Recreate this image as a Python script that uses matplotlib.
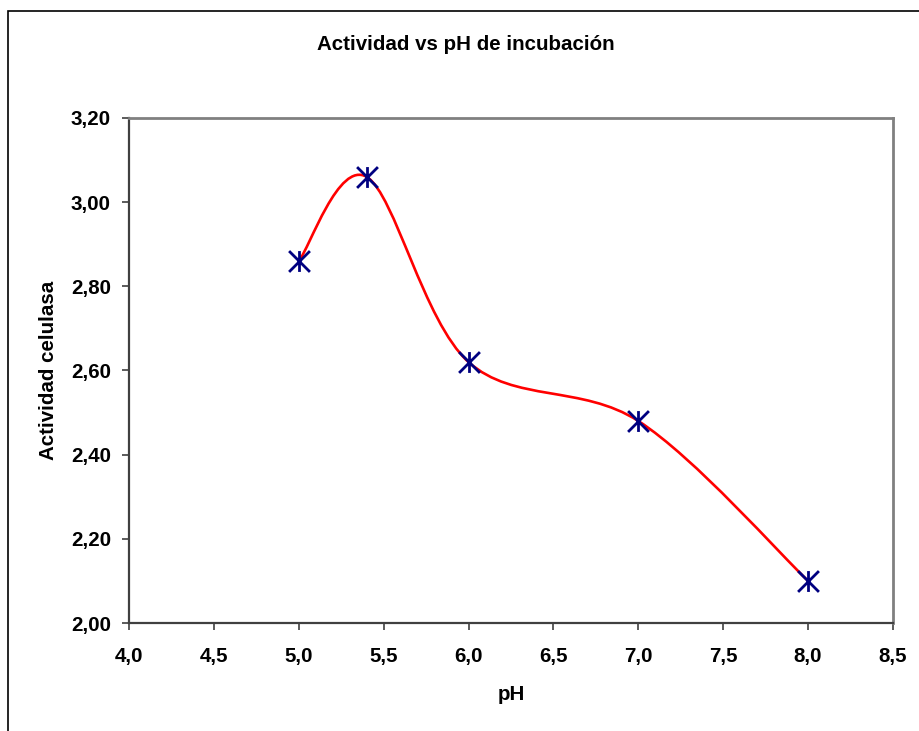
import matplotlib
matplotlib.use("Agg")
import matplotlib.pyplot as plt
from matplotlib.path import Path
from matplotlib.patches import PathPatch, Rectangle
from matplotlib.ticker import FuncFormatter, MultipleLocator

# Data
ph = [5.0, 5.4, 6.0, 7.0, 8.0]
actividad = [2.86, 3.06, 2.62, 2.48, 2.10]

title = "Actividad vs pH de incubación"
xlabel = "pH"
ylabel = "Actividad celulasa"

plt.rcParams['font.family'] = ['Liberation Sans', 'DejaVu Sans']
FS = 14.8

W, H = 919, 731
fig = plt.figure(figsize=(W / 100, H / 100), dpi=100)
fig.patch.set_facecolor('white')

# outer chart frame (extends beyond the image on right/bottom)
fig.patches.append(Rectangle((8 / W, 0 - 20 / H), (W + 40) / W, (H - 11 + 20) / H,
                             transform=fig.transFigure, fill=False,
                             edgecolor='black', linewidth=1.2))

L, R, T, B = 129, 893, 118, 623
ax = fig.add_axes([L / W, (H - B) / H, (R - L) / W, (B - T) / H])

# Smoothed line (Excel-like Bezier smoothing through the points)
pts = list(zip(ph, actividad))
n = len(pts)
verts = [pts[0]]
codes = [Path.MOVETO]
for i in range(n - 1):
    p0 = pts[i - 1] if i > 0 else pts[i]
    p1 = pts[i]
    p2 = pts[i + 1]
    p3 = pts[i + 2] if i + 2 < n else pts[i + 1]
    c1 = (p1[0] + (p2[0] - p0[0]) / 6, p1[1] + (p2[1] - p0[1]) / 6)
    c2 = (p2[0] - (p3[0] - p1[0]) / 6, p2[1] - (p3[1] - p1[1]) / 6)
    verts += [c1, c2, p2]
    codes += [Path.CURVE4] * 3
ax.add_patch(PathPatch(Path(verts, codes), facecolor='none', edgecolor='#FF0000',
                       linewidth=1.9, zorder=2))

star = Path([(-1, -1), (1, 1), (-1, 1), (1, -1), (0, -1), (0, 1)],
            [Path.MOVETO, Path.LINETO, Path.MOVETO, Path.LINETO, Path.MOVETO, Path.LINETO])
ax.plot(ph, actividad, linestyle='none', marker=star, markersize=15,
        markeredgecolor='#000080', markerfacecolor='none', markeredgewidth=2.0, zorder=3)

ax.set_xlim(4.0, 8.5)
ax.set_ylim(2.0, 3.2)
ax.xaxis.set_major_locator(MultipleLocator(0.5))
ax.yaxis.set_major_locator(MultipleLocator(0.2))
ax.xaxis.set_major_formatter(FuncFormatter(lambda v, p: f"{v:.1f}".replace('.', ',')))
ax.yaxis.set_major_formatter(FuncFormatter(lambda v, p: f"{v:.2f}".replace('.', ',')))

for s in ['top', 'right']:
    ax.spines[s].set_color('#808080')
    ax.spines[s].set_linewidth(2.0)
for s in ['left', 'bottom']:
    ax.spines[s].set_color('#404040')
    ax.spines[s].set_linewidth(1.6)

ax.tick_params(axis='both', direction='out', length=5, width=1.2, color='#404040',
               labelsize=FS)
ax.tick_params(axis='y', pad=8)
ax.tick_params(axis='x', pad=12)
for lab in ax.get_xticklabels() + ax.get_yticklabels():
    lab.set_fontweight('bold')

fig.text(466 / W, 1 - 44 / H, title, ha='center', va='center', fontsize=FS, fontweight='bold')
fig.text(511 / W, 1 - 695 / H, xlabel, ha='center', va='center', fontsize=FS, fontweight='bold')
fig.text(49 / W, 1 - 370 / H, ylabel, ha='center', va='center', rotation=90,
         fontsize=FS, fontweight='bold')

fig.savefig('out.png', dpi=100)
